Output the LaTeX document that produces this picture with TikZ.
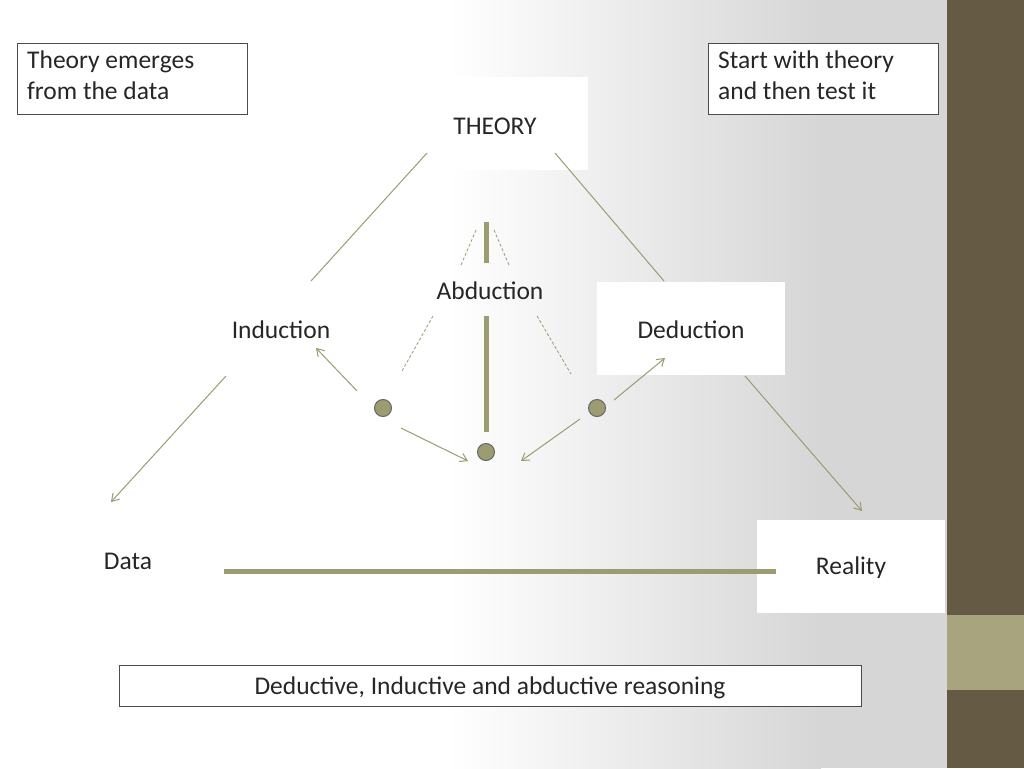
\documentclass[tikz,border=0pt]{standalone}
\usepackage{fontspec}
\setmainfont{Carlito}
\usetikzlibrary{arrows.meta}
\definecolor{ol}{HTML}{9C9B72}
\definecolor{dk}{HTML}{655B45}
\definecolor{lt}{HTML}{A8A57E}
\definecolor{gr}{HTML}{D6D6D6}
\begin{document}
\begin{tikzpicture}[x=1pt,y=-1pt,
  txt/.style={font=\fontsize{25.5}{31}\selectfont, text=black!85, inner sep=0pt},
  wbox/.style={fill=white, draw=none},
  frame/.style={draw=black!70, line width=0.6pt, fill=white},
  thin/.style={draw=ol, line width=1pt},
  arr/.style={thin, -{Straight Barb[length=7pt,width=9pt]}},
  thick/.style={draw=ol, line width=5pt},
  dsh/.style={draw=ol, line width=0.8pt, dash pattern=on 3pt off 2pt},
  dot/.style={circle, fill=ol, draw=black!60, line width=1pt, minimum size=17pt, inner sep=0pt}]
\useasboundingbox (0,0) rectangle (1024,768);
\fill[gr] (0,0) rectangle (947,768);
\fill[white] (0,0) rectangle (450,768);
\shade[left color=white, right color=gr] (449,0) rectangle (821,768);
\fill[dk] (947,0) rectangle (1024,768);
\fill[lt] (947,615) rectangle (1024,690);
% boxes
\node[frame, minimum width=230pt, minimum height=71pt, anchor=north west] (tl) at (17,43) {};
\node[txt, anchor=north west, align=left] (tlt) at (27,51) {Theory emerges\\from the data};
\node[frame, minimum width=230pt, minimum height=71pt, anchor=north west] (tr) at (708,43) {};
\node[txt, anchor=north west, align=left] (trt) at (718,51) {Start with theory\\and then test it};
\node[wbox, minimum width=163pt, minimum height=93pt, anchor=north west] (thb) at (425,77) {};
\node[txt] (theory) at (495,126) {THEORY};
\node[wbox, minimum width=188pt, minimum height=93pt, anchor=north west] (dedb) at (597,282) {};
\node[txt] (ded) at (691,330) {Deduction};
\node[txt] (ind) at (281,330) {Induction};
\node[txt] (abd) at (490,291) {Abduction};
\node[wbox, minimum width=188pt, minimum height=93pt, anchor=north west] (reab) at (757,520) {};
\node[txt] (rea) at (851,568) {Reality};
\node[txt] (data) at (128,561) {Data};
\node[frame, minimum width=742pt, minimum height=41pt, anchor=north west] (bot) at (119,665) {};
\node[txt] (bott) at (490,688) {Deductive, Inductive and abductive reasoning};
% coordinates
\coordinate (a1) at (427,153); \coordinate (a2) at (311,281);
\coordinate (b1) at (555,153); \coordinate (b2) at (664,281);
\coordinate (c1) at (226,376); \coordinate (c2) at (111,502);
\coordinate (d1) at (745,376); \coordinate (d2) at (862,511);
\coordinate (h1) at (224,571); \coordinate (h2) at (776,571);
\coordinate (v1) at (486,222); \coordinate (v2) at (486,263);
\coordinate (v3) at (486,316); \coordinate (v4) at (486,432);
\draw[thin] (a1) -- (a2);
\draw[thin] (b1) -- (b2);
\draw[arr] (c1) -- (c2);
\draw[arr] (d1) -- (d2);
\draw[thick] (h1) -- (h2);
\draw[thick] (v1) -- (v2);
\draw[thick] (v3) -- (v4);
\coordinate (e1) at (476,230); \coordinate (e2) at (461,265);
\coordinate (f1) at (494,230); \coordinate (f2) at (509,265);
\coordinate (g1) at (433,316); \coordinate (g2) at (402,371);
\coordinate (k1) at (537,316); \coordinate (k2) at (571,374);
\draw[dsh] (e1) -- (e2); \draw[dsh] (f1) -- (f2);
\draw[dsh] (g1) -- (g2); \draw[dsh] (k1) -- (k2);
\node[dot] (p1) at (383,408) {};
\node[dot] (p2) at (486,452) {};
\node[dot] (p3) at (597,408) {};
\coordinate (m1) at (357,391); \coordinate (n1) at (316,348);
\coordinate (m2) at (401,428); \coordinate (n2) at (468,461);
\coordinate (m3) at (580,419); \coordinate (n3) at (521,461);
\coordinate (m4) at (614,400); \coordinate (n4) at (665,358);
\draw[arr] (m1) -- (n1);
\draw[arr] (m2) -- (n2);
\draw[arr] (m3) -- (n3);
\draw[arr] (m4) -- (n4);
\end{tikzpicture}
\end{document}
